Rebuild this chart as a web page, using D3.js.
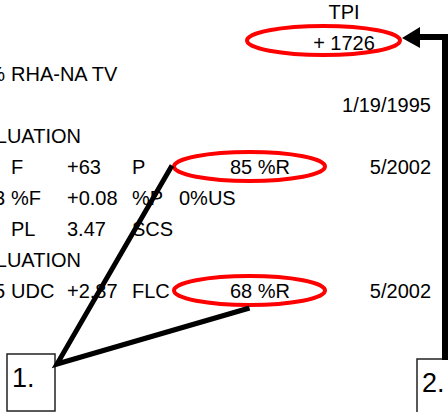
<!DOCTYPE html>
<html>
<head>
<meta charset="utf-8">
<script src="https://cdn.jsdelivr.net/npm/d3@7"></script>
<style>
  html, body { margin: 0; padding: 0; background: #fff; overflow: hidden; }
  text { font-family: "Liberation Sans", Arial, sans-serif; fill: #000; }
</style>
</head>
<body>
<svg id="chart"></svg>
<script>
// text lines of the record, row index -> cells [column, text]
const headerLines = [
    {row: -2, text: "TPI"},
    {row: -1, text: "+ 1726"}
];
const recordRows = [
    {row: 0, cells: [["pre", "%"], ["a", "RHA-NA TV"]]},
    {row: 1, cells: [["date", "1/19/1995"]]},
    {row: 2, cells: [["eval", "EVALUATION"]]},
    {row: 3, cells: [["a", "F"], ["b", "+63"], ["c", "P"], ["e", "85 %R"], ["date", "5/2002"]]},
    {row: 4, cells: [["pre", "3"], ["a", "%F"], ["b", "+0.08"], ["c", "%P"], ["d", "0%US"]]},
    {row: 5, cells: [["a", "PL"], ["b", "3.47"], ["c", "SCS"]]},
    {row: 6, cells: [["eval", "EVALUATION"]]},
    {row: 7, cells: [["pre", "5"], ["a", "UDC"], ["b", "+2.87"], ["c", "FLC"], ["e", "68 %R"], ["date", "5/2002"]]}
];
// circled values: [row, column]
const highlights = [[-1, "tpi"], [3, "e"], [7, "e"]];
const calloutLabels = ["1.", "2."];

const width = 448, height = 412;

// layout
const colX = {pre: 5, a: 11, b: 67, c: 132, d: 179, e: 230, date: 431, eval: 81, tpi: 344};
const colAnchor = {pre: "end", date: "end", eval: "end", tpi: "middle"};
const ellipseX = {e: 249.5, tpi: 323.5};

const y = d3.scaleLinear().domain([0, 7]).range([81, 298]);

const svg = d3.select("#chart")
    .attr("width", width)
    .attr("height", height);

// header (TPI)
svg.selectAll("text.header")
    .data(headerLines)
    .enter().append("text")
    .attr("class", "header")
    .attr("x", colX.tpi)
    .attr("y", d => y(d.row))
    .attr("text-anchor", "middle")
    .style("font-size", "20px")
    .text(d => d.text);

// record rows
let cells = [];
recordRows.forEach(r => r.cells.forEach(c => cells.push({row: r.row, col: c[0], text: c[1]})));

svg.selectAll("text.cell")
    .data(cells)
    .enter().append("text")
    .attr("class", "cell")
    .attr("x", d => colX[d.col])
    .attr("y", d => y(d.row))
    .attr("text-anchor", d => colAnchor[d.col] || "start")
    .style("font-size", "20px")
    .style("white-space", "pre")
    .text(d => d.text);

// red ellipses
const ell = highlights.map(h => ({
    cx: ellipseX[h[1]],
    cy: y(h[0]) - (h[0] < 0 ? 9.5 : 7.5),
    rx: h[0] < 0 ? 76.5 : 75.5,
    ry: 14.5
}));

svg.selectAll("ellipse")
    .data(ell)
    .enter().append("ellipse")
    .attr("cx", d => d.cx)
    .attr("cy", d => d.cy)
    .attr("rx", d => d.rx)
    .attr("ry", d => d.ry)
    .attr("fill", "none")
    .attr("stroke", "#ff0000")
    .attr("stroke-width", 4);

// callout boxes
const boxes = [
    {label: calloutLabels[0], x: 7, y: 354, w: 48, h: 57, tx: 12, ty: 387},
    {label: calloutLabels[1], x: 417, y: 359, w: 60, h: 60, tx: 422, ty: 392}
];

svg.selectAll("rect.box")
    .data(boxes)
    .enter().append("rect")
    .attr("class", "box")
    .attr("x", d => d.x)
    .attr("y", d => d.y)
    .attr("width", d => d.w)
    .attr("height", d => d.h)
    .attr("fill", "#fff")
    .attr("stroke", "#222")
    .attr("stroke-width", 1.5);

svg.selectAll("text.box")
    .data(boxes)
    .enter().append("text")
    .attr("class", "box")
    .attr("x", d => d.tx)
    .attr("y", d => d.ty)
    .style("font-size", "27px")
    .text(d => d.label);

// callout 1: lines from box to the two %R ellipses
const e85 = ell[1], e68 = ell[2];
const corner = [57, 364];
const line = d3.line();

svg.append("path")
    .attr("d", line([[e85.cx - e85.rx - 2, e85.cy - 1], corner, [e68.cx, e68.cy + e68.ry + 3]]))
    .attr("fill", "none")
    .attr("stroke", "#000")
    .attr("stroke-width", 5)
    .attr("stroke-linejoin", "miter");

// callout 2: arrow from box up to the TPI ellipse
const eT = ell[0];
const tip = [eT.cx + eT.rx + 2, 38];
svg.append("path")
    .attr("d", line([[445, 360], [445, 37], [tip[0] + 16, 37]]))
    .attr("fill", "none")
    .attr("stroke", "#000")
    .attr("stroke-width", 6);

svg.append("path")
    .attr("d", line([tip, [tip[0] + 18, 27], [tip[0] + 18, 48]]) + "Z")
    .attr("fill", "#000");
</script>
</body>
</html>
